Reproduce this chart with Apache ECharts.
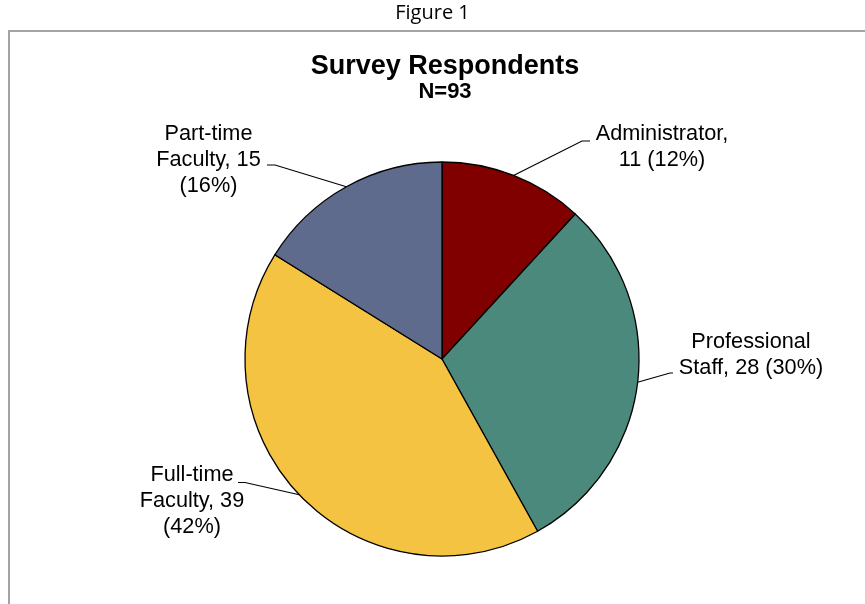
<!DOCTYPE html>
<html>
<head>
<meta charset="utf-8">
<script src="https://cdn.jsdelivr.net/npm/echarts@6/dist/echarts.min.js"></script>
<style>
html,body{margin:0;padding:0;background:#fff;}
#chart{width:865px;height:604px;}
</style>
</head>
<body>
<div id="chart"></div>
<script>
const figureCaption = 'Figure 1';
const chartTitle = 'Survey Respondents';
const chartSubtitle = 'N=93';
const categories = ['Administrator', 'Professional Staff', 'Full-time Faculty', 'Part-time Faculty'];
const counts = [11, 28, 39, 15];
const sliceColors = ['#800000', '#4a897c', '#f5c342', '#5f6b8d'];

// label placement (layout only)
const labelPlacement = [
  {x: 662, y: 147, elbow: [582, 141], end: [590, 141]},
  {x: 751, y: 355, elbow: [670, 373], end: [673, 373]},
  {x: 192, y: 501, elbow: [245, 482.5], end: [238, 482.5]},
  {x: 208.5, y: 160, elbow: [275, 165], end: [267, 165]}
];

function wrapLabel(idx, text) {
  if (idx === 0) return text.replace(', ', ',\n');
  if (idx === 1) return text.replace(' ', '\n');
  return text.replace(' ', '\n').replace(' (', '\n(');
}

const chart = echarts.init(document.getElementById('chart'), null, {renderer: 'canvas'});
chart.setOption({
  animation: false,
  backgroundColor: '#ffffff',
  title: [
    {text: chartTitle, left: 440, top: 48, textAlign: 'center',
     textStyle: {fontFamily: 'Liberation Sans, Arial, sans-serif', fontSize: 27, fontWeight: 'bold', color: '#000'}},
    {text: chartSubtitle, left: 440, top: 76, textAlign: 'center',
     textStyle: {fontFamily: 'Liberation Sans, Arial, sans-serif', fontSize: 22, fontWeight: 'bold', color: '#000'}}
  ],
  graphic: [
    {type: 'text', left: 'center', top: 3,
     style: {text: figureCaption, fontFamily: 'Open Sans, sans-serif', fontSize: 20, fill: '#000'}},
    {type: 'polyline', silent: true,
     shape: {points: [[9, 604], [9, 31], [866, 31]]},
     style: {stroke: '#a3a3a3', lineWidth: 2, fill: null}}
  ],
  series: [{
    type: 'pie',
    center: [442, 359],
    radius: 197,
    startAngle: 90,
    clockwise: true,
    avoidLabelOverlap: false,
    percentPrecision: 0,
    itemStyle: {borderColor: '#000', borderWidth: 1.3},
    emphasis: {disabled: true},
    label: {
      show: true,
      position: 'outside',
      fontFamily: 'Liberation Sans, Arial, sans-serif',
      fontSize: 21.7,
      lineHeight: 26,
      color: '#000',
      align: 'center',
      formatter: function (p) {
        return wrapLabel(p.dataIndex, p.name + ', ' + p.value + ' (' + p.percent + '%)');
      }
    },
    labelLine: {show: true, length: 20, length2: 10, smooth: false,
      lineStyle: {color: '#000', width: 1.2}},
    labelLayout: function (params) {
      const pl = labelPlacement[params.dataIndex];
      const start = params.labelLinePoints ? params.labelLinePoints[0] : pl.elbow;
      return {
        x: pl.x, y: pl.y, align: 'center', verticalAlign: 'middle',
        labelLinePoints: [start, pl.elbow, pl.end]
      };
    },
    data: categories.map((c, i) => ({name: c, value: counts[i], itemStyle: {color: sliceColors[i]}}))
  }]
});
</script>
</body>
</html>
